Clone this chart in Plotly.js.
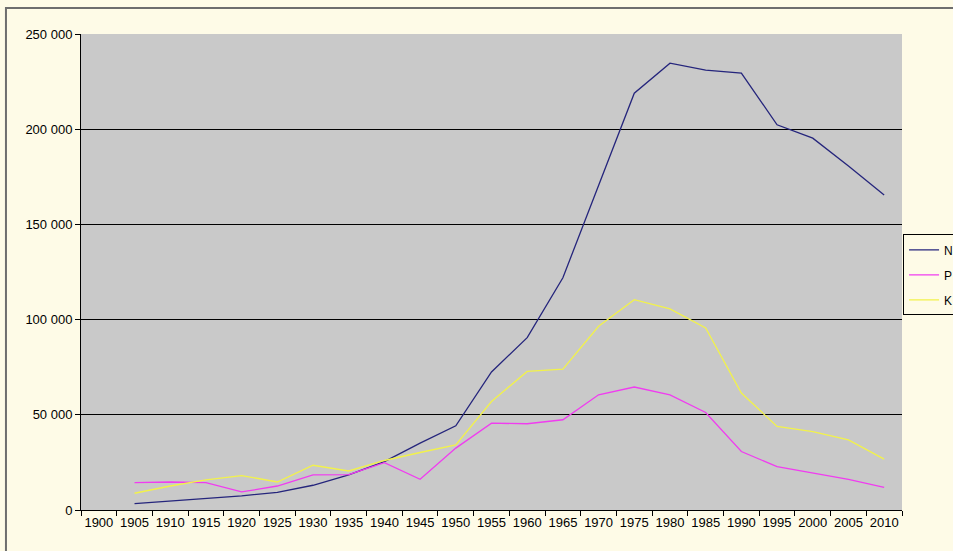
<!DOCTYPE html>
<html>
<head>
<meta charset="utf-8">
<script src="https://cdn.plot.ly/plotly-3.0.1.min.js"></script>
<style>
html,body{margin:0;padding:0;background:#fefbe7;overflow:hidden;}
#chart{width:953px;height:551px;}
</style>
</head>
<body>
<div id="chart"></div>
<script>
var years = ["1900","1905","1910","1915","1920","1925","1930","1935","1940","1945","1950","1955",
             "1960","1965","1970","1975","1980","1985","1990","1995","2000","2005","2010"];
var seriesN = [null, 3300, 4700, 6100, 7400, 9300, 13000, 18400, 25400, 35100, 44200, 72500,
               90500, 122000, 170000, 218900, 234700, 231000, 229500, 202300, 195300, 180700, 165400];
var seriesP = [null, 14400, 14700, 14400, 9500, 12600, 18400, 18600, 24900, 16100, 32500, 45600,
               45300, 47400, 60500, 64600, 60500, 51200, 30700, 22800, 19300, 16100, 11900];
var seriesK = [null, 8800, 12600, 15800, 18100, 14700, 23500, 20500, 26000, 30200, 34200, 57000,
               72800, 74000, 96500, 110500, 105600, 95600, 61400, 43900, 41200, 36800, 26700];
var names = ["N", "P", "K"];
var yTicks = [0, 50000, 100000, 150000, 200000, 250000];

var colors = ["#25257c", "#f03cf0", "#f2f24a"];
var allSeries = [seriesN, seriesP, seriesK];
var traces = allSeries.map(function(s, i){
  return {
    type: "scatter", mode: "lines", x: years, y: s, name: names[i],
    legendgroup: "g" + i,
    line: {color: colors[i], width: 1.3},
    connectgaps: false, hoverinfo: "x+y"
  };
});

var layout = {
  width: 953, height: 551,
  margin: {l: 81, r: 51, t: 34, b: 41, pad: 0, autoexpand: false},
  paper_bgcolor: "#fefbe7",
  plot_bgcolor: "#c9c9c9",
  separators: ", ",
  font: {family: "Liberation Sans, Arial, sans-serif", size: 13, color: "#000"},
  showlegend: true,
  legend: {
    x: 1.0013, y: 0.579, xanchor: "left", yanchor: "top",
    bgcolor: "#fefbe7", bordercolor: "#000", borderwidth: 1,
    font: {size: 12}, traceorder: "grouped", tracegroupgap: 6
  },
  xaxis: {
    type: "category", categoryorder: "array", categoryarray: years,
    range: [-0.5, 22.5], automargin: false,
    showgrid: false, zeroline: false,
    showline: true, linecolor: "#000", linewidth: 1,
    ticks: "outside", tickson: "boundaries", ticklen: 5, tickcolor: "#000", tickwidth: 1,
    tickangle: 0, tickfont: {size: 13}
  },
  yaxis: {
    range: [0, 250000], tickvals: yTicks, tickformat: ",d", automargin: false,
    showgrid: true, gridcolor: "#000", gridwidth: 1,
    zeroline: false,
    showline: true, linecolor: "#000", linewidth: 1,
    ticks: "outside", ticklen: 5, tickcolor: "#000", tickwidth: 1,
    tickfont: {size: 13}
  },
  shapes: [{
    type: "path", xref: "paper", yref: "paper",
    path: "M -0.0914,-0.2 L -0.0914,1.0546 L 1.2,1.0546",
    line: {color: "#6e6e6e", width: 2}
  }]
};

Plotly.newPlot("chart", traces, layout, {displayModeBar: false, staticPlot: true});
</script>
</body>
</html>
